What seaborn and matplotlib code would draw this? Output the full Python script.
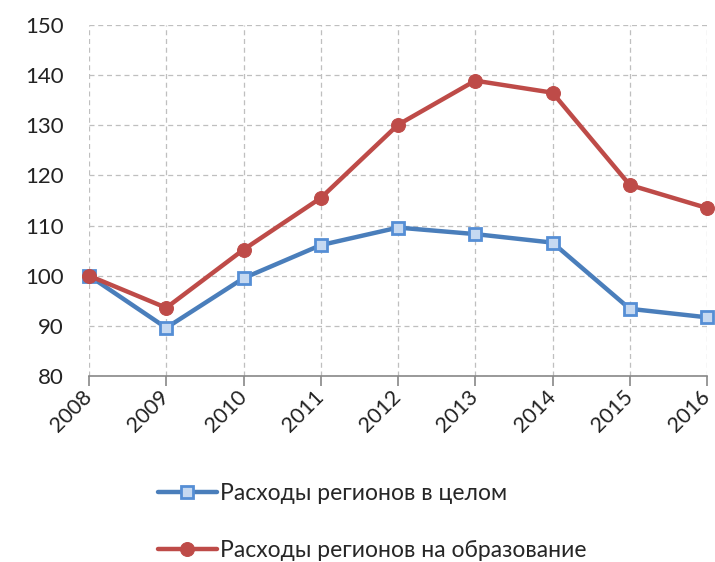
import matplotlib
matplotlib.use("Agg")
import matplotlib.pyplot as plt
import matplotlib.transforms as mtransforms
import seaborn as sns
import pandas as pd

years = [2008, 2009, 2010, 2011, 2012, 2013, 2014, 2015, 2016]
total = [100.0, 89.6, 99.5, 106.1, 109.6, 108.3, 106.6, 93.4, 91.7]
education = [100.0, 93.6, 105.2, 115.5, 130.1, 138.9, 136.5, 118.1, 113.5]
series_names = ["Расходы регионов в целом", "Расходы регионов на образование"]

sns.set_theme(style="white")
plt.rcParams['font.family'] = ['Lato', 'DejaVu Sans']

df = pd.DataFrame({
    "year": years * 2,
    "value": total + education,
    "series": [series_names[0]] * len(years) + [series_names[1]] * len(years),
})

fig = plt.figure(figsize=(7.15, 5.62), dpi=100)
ax = fig.add_axes([89/715, 1 - 376/562, (707-89)/715, (376-25)/562])

blue = "#4A7EBB"
red = "#BE4B48"

sns.lineplot(data=df[df.series == series_names[0]], x="year", y="value", ax=ax,
             color=blue, linewidth=3.2, marker="s", markersize=9,
             markerfacecolor="#C6D9F1", markeredgecolor="#558ED5", markeredgewidth=2,
             label=series_names[0], clip_on=False)
sns.lineplot(data=df[df.series == series_names[1]], x="year", y="value", ax=ax,
             color=red, linewidth=3.2, marker="o", markersize=10,
             markerfacecolor=red, markeredgecolor=red,
             label=series_names[1], clip_on=False)

ax.set_xlim(2008, 2016)
ax.set_ylim(80, 150)
ax.set_xticks(years)
ax.set_xticklabels([])
base = mtransforms.blended_transform_factory(ax.transData, ax.transAxes)
offset = mtransforms.ScaledTranslation(-7/100, -11/100, fig.dpi_scale_trans)
for yr in years:
    ax.text(yr, 0, str(yr), transform=base + offset, rotation=45, ha="right", va="top",
            rotation_mode="anchor", fontsize=15.5, color="#222222")
ax.set_yticks(range(80, 151, 10))
ax.set_yticklabels([str(v) for v in range(80, 151, 10)], fontsize=16, color="#222222")
ax.set_xlabel("")
ax.set_ylabel("")

ax.grid(True, linestyle=(0, (4, 3)), color="#BFBFBF", linewidth=0.9)
ax.set_axisbelow(True)
for s in ["top", "right", "left"]:
    ax.spines[s].set_visible(False)
ax.spines["bottom"].set_color("#888888")
ax.spines["bottom"].set_linewidth(1.2)
ax.tick_params(axis="x", length=7, width=1.2, color="#888888", direction="out", pad=3, bottom=True)
ax.tick_params(axis="y", length=0, pad=18)

leg = ax.legend(loc="upper left", bbox_to_anchor=(137/715, 1 - 462/562),
                bbox_transform=fig.transFigure, frameon=False, fontsize=16.5,
                handlelength=2.6, handletextpad=0.1, labelspacing=1.6)

fig.savefig("out.png", dpi=100)
